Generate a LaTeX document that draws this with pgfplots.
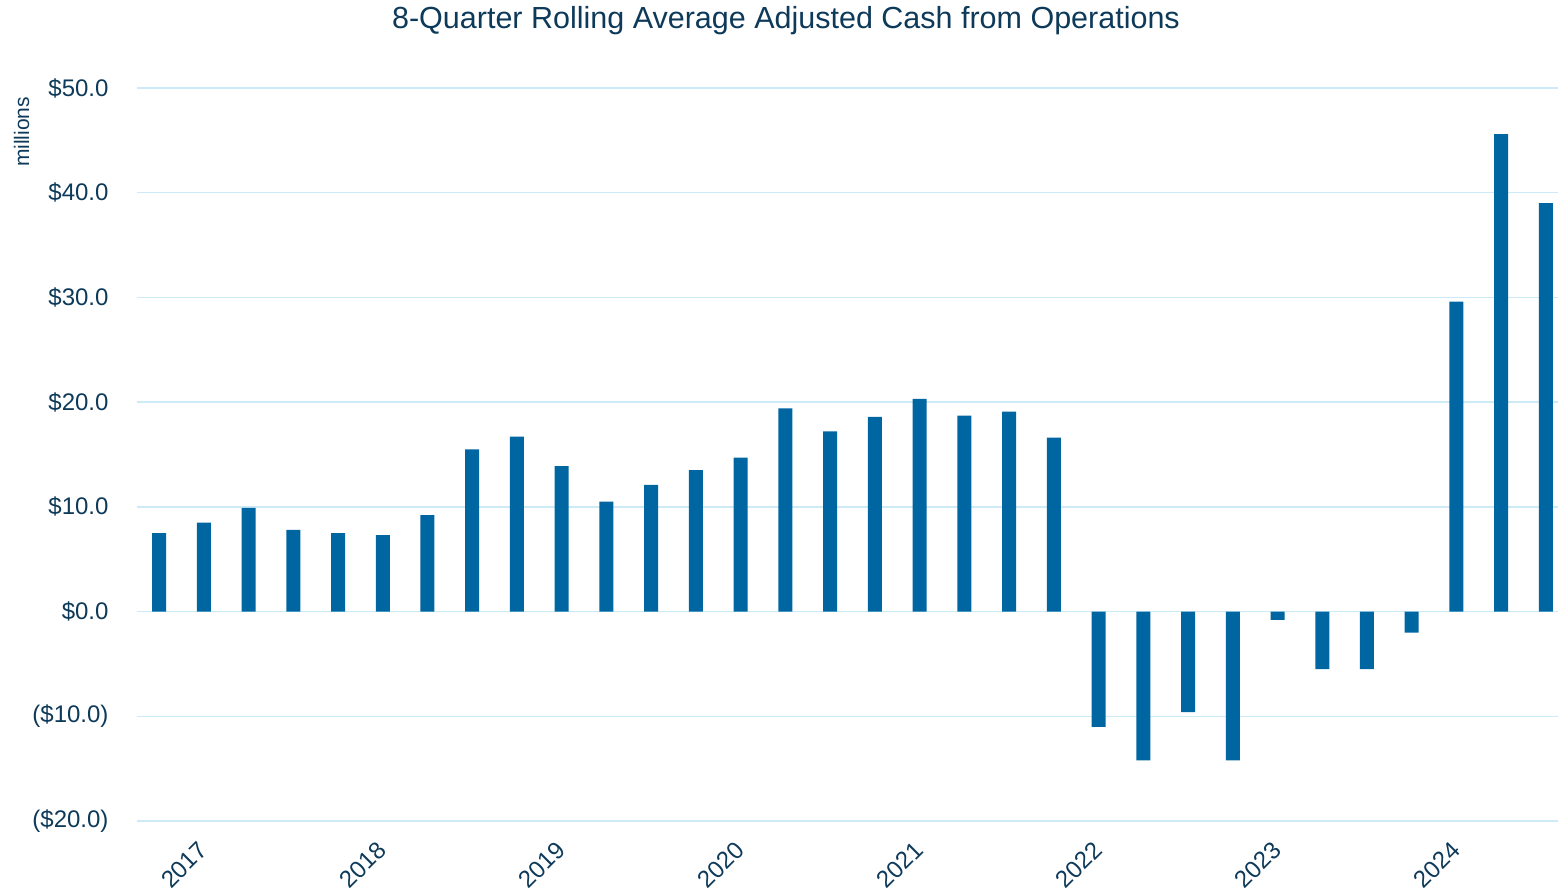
\documentclass[border=0pt]{standalone}
\usepackage{pgfplots}
\pgfplotsset{compat=1.18}
\usepackage{fontspec}
\setmainfont{Liberation Sans}
\definecolor{barblue}{HTML}{0066A2}
\definecolor{txt}{HTML}{0E3A5A}
\definecolor{gridc}{HTML}{CDEBF7}
\begin{document}
\begin{tikzpicture}[x=1pt,y=1pt]
\path[use as bounding box] (0,0) rectangle (1558,893);
\begin{axis}[
  at={(136.7pt,72pt)}, anchor=south west,
  scale only axis, width=1421.3pt, height=733pt,
  xmin=-0.5, xmax=31.27, ymin=-20, ymax=50,
  axis line style={draw=none}, tick style={draw=none},
  ymajorgrids, grid style={gridc, line width=1.5pt},
  ytick={-20,-10,0,10,20,30,40,50},
  yticklabels={(\$20.0),(\$10.0),\$0.0,\$10.0,\$20.0,\$30.0,\$40.0,\$50.0},
  y tick label style={font=\fontsize{24}{28}\selectfont, text=txt, anchor=east, inner sep=0pt, xshift=-28pt},
  xtick={1,5,9,13,17,21,25,29},
  xticklabels={2017,2018,2019,2020,2021,2022,2023,2024},
  x tick label style={font=\fontsize{24}{28}\selectfont, text=txt, rotate=45, anchor=east, inner sep=0pt, xshift=-15pt, yshift=-14pt},
  ybar, bar width=14pt,
  clip=false,
]
\addplot[fill=barblue, draw=none] coordinates {
(0,7.5) (1,8.5) (2,9.9) (3,7.8) (4,7.5) (5,7.3) (6,9.2) (7,15.5)
(8,16.7) (9,13.9) (10,10.5) (11,12.1) (12,13.5) (13,14.7) (14,19.4) (15,17.2)
(16,18.6) (17,20.3) (18,18.7) (19,19.1) (20,16.6) (21,-11.0) (22,-14.2) (23,-9.6)
(24,-14.2) (25,-0.8) (26,-5.5) (27,-5.5) (28,-2.0) (29,29.6) (30,45.6) (31,39.0)
};
\end{axis}
\node[text=txt, font=\fontsize{30.5}{36}\selectfont, anchor=center] at (786,872) {8-Quarter Rolling Average Adjusted Cash from Operations};
\node[text=txt, font=\fontsize{21}{25}\selectfont, rotate=90, anchor=center] at (21.5,761) {millions};
\end{tikzpicture}
\end{document}
